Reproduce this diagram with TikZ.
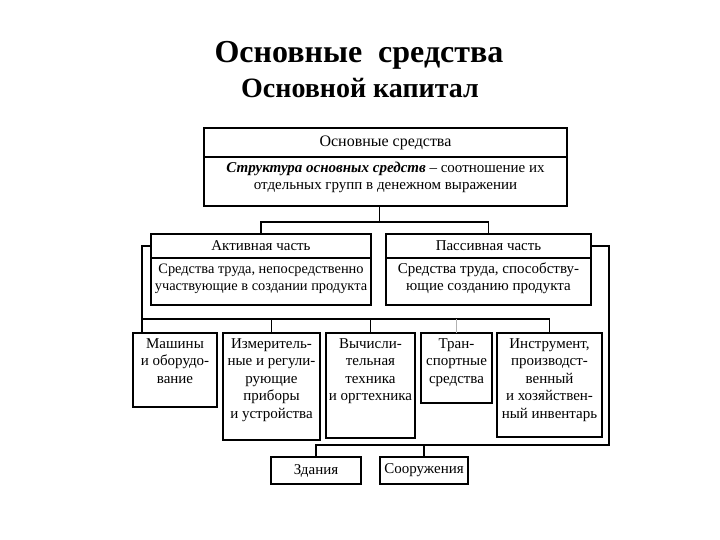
\documentclass[tikz,border=0pt]{standalone}
\usepackage{fontspec}
\setmainfont{Liberation Serif}
\usetikzlibrary{positioning}

\newcommand{\cellbox}[3]{\parbox[t][#2][t]{#1}{\centering\vspace{3pt}\strut #3}}
\newcommand{\headbox}[3]{\parbox[c][#2][c]{#1}{\centering #3}}

\tikzset{
  cell/.style={draw, line width=1.6pt, inner sep=0pt, outer sep=0pt, font=\fontsize{15}{17.5}\selectfont},
  link/.style={line width=1.3pt},
}

\begin{document}
\begin{tikzpicture}[x=1pt,y=-1pt]
   \useasboundingbox (0,0) rectangle (720,540);
   \node[anchor=base, font=\bfseries\fontsize{32}{36}\selectfont] (title) at (359,63) {Основные~~средства};
   \node[anchor=base, font=\bfseries\fontsize{28}{32}\selectfont] (subtitle) at (360,97.5) {Основной капитал};
   % main box
   \node[cell, font=\fontsize{16}{17.5}\selectfont] (os) at (385.5,142.5) {\headbox{363pt}{29pt}{Основные средства}};
   \node[cell, below=0pt of os] (osdef) {\cellbox{363pt}{49pt}{\textbf{\textit{Структура основных средств}} -- соотношение их\\ отдельных групп в денежном выражении}};
   % active and passive parts
   \node[cell, anchor=north west] (act) at (151,234) {\headbox{220pt}{24pt}{Активная часть}};
   \node[cell, below=0pt of act, font=\fontsize{14.4}{17.5}\selectfont] (actdef) {\cellbox{220pt}{47pt}{Средства труда, непосредственно\\ участвующие в создании продукта}};
   \node[cell, right=15pt of act] (pas) {\headbox{205pt}{24pt}{Пассивная часть}};
   \node[cell, below=0pt of pas] (pasdef) {\cellbox{205pt}{47pt}{Средства труда, способству-\\ ющие созданию продукта}};
   % kinds of the active part
   \node[cell, anchor=north west] (mach) at (133,333) {\cellbox{84pt}{74pt}{Машины\\ и оборудо-\\ вание}};
   \node[cell, right=6pt of mach.north east, anchor=north west] (meas) {\cellbox{97pt}{107pt}{Измеритель-\\ ные и регули-\\ рующие\\ приборы\\ и устройства}};
   \node[cell, right=6pt of meas.north east, anchor=north west] (comp) {\cellbox{89pt}{105pt}{Вычисли-\\ тельная\\ техника\\ и оргтехника}};
   \node[cell, right=6pt of comp.north east, anchor=north west] (trans) {\cellbox{71pt}{70pt}{Тран-\\ спортные\\ средства}};
   \node[cell, right=5pt of trans.north east, anchor=north west] (inst) {\cellbox{105pt}{104pt}{Инструмент,\\ производст-\\ венный\\ и хозяйствен-\\ ный инвентарь}};
   % kinds of the passive part
   \node[cell, anchor=north west] (zd) at (271,457) {\headbox{90pt}{27pt}{Здания}};
   \node[cell, right=19pt of zd] (soor) {\headbox{88pt}{27pt}{Сооружения}};
   % connectors
   \coordinate (fork) at ([xshift=-6pt,yshift=-16pt]osdef.south);
   \draw[link] (fork |- osdef.south) -- (fork);
   \draw[link] (act.north) |- (fork) -| (pas.north);
   \coordinate[left=9pt of act.west] (lt);
   \coordinate[above=14pt of mach.north] (bus);
   \draw[link] (act.west) -- (lt) -- (lt |- mach.north);
   \draw[link] (lt |- bus) -- (inst.north |- bus);
   \foreach \n in {meas,comp,inst}
      \draw[link] (\n.north) -- (\n.north |- bus);
   \draw[link, gray!60] (trans.north) -- (trans.north |- bus);
   \coordinate[right=18pt of pas.east] (rt);
   \coordinate[above=12pt of zd.north] (bus2);
   \draw[link] (pas.east) -- (rt) -- (rt |- bus2) -- (bus2) -- (zd.north);
   \draw[link] (soor.north) -- (soor.north |- bus2);
\end{tikzpicture}
\end{document}
